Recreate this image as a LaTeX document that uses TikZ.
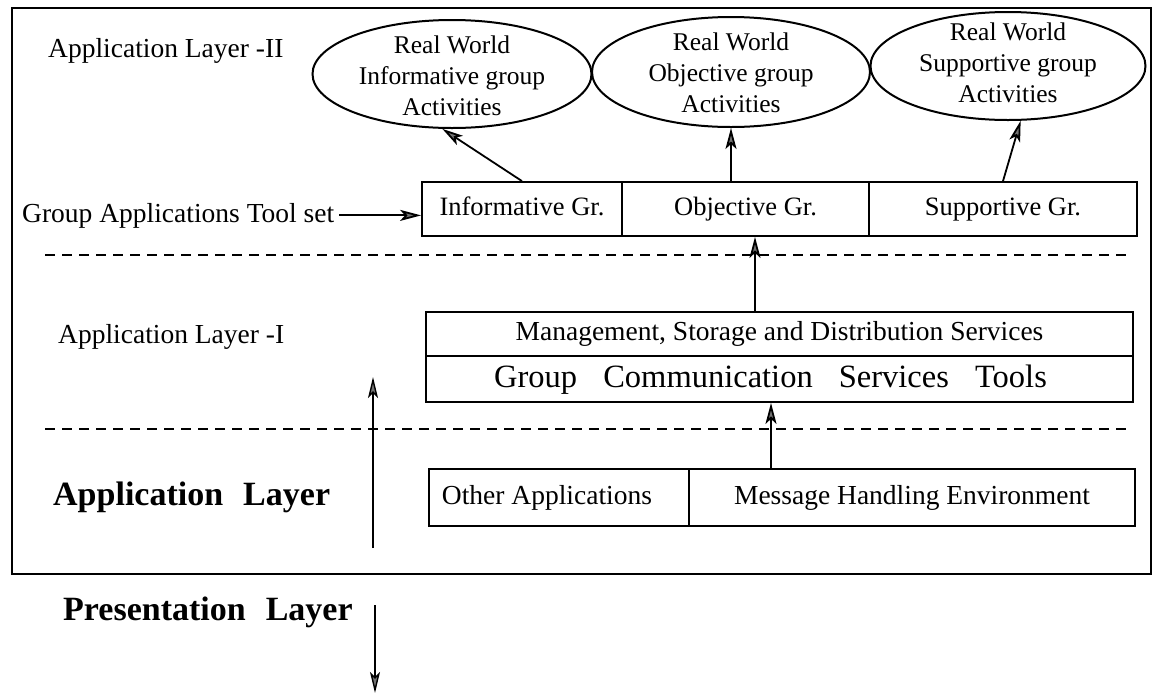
\documentclass[tikz,border=0pt]{standalone}
\usepackage{fontspec}
\setmainfont{Liberation Serif}
\usetikzlibrary{shapes.geometric,arrows.meta}

\tikzset{
  frame/.style={draw, line width=2.2pt},
  lbl/.style={inner sep=0pt, font=\fontsize{27.5}{33}\selectfont},
  biglbl/.style={inner sep=0pt, font=\fontsize{34}{40}\selectfont\bfseries},
  ellip/.style={draw, ellipse, line width=2pt, inner sep=0pt},
  etext/.style={inner sep=0pt, align=center, font=\fontsize{25.5}{31}\selectfont},
  box/.style={draw, rectangle, line width=1.8pt, inner sep=0pt},
  gbox/.style={box, font=\fontsize{26.5}{31}\selectfont, text height=18pt, text depth=5pt},
  sbox/.style={box, font=\fontsize{27.5}{33}\selectfont, text height=19pt, text depth=5.5pt},
  tbox/.style={box, font=\fontsize{32.5}{38}\selectfont, text height=22.5pt, text depth=6.5pt},
  arr/.style={line width=1.8pt,
    -{Stealth[length=21pt, width=11pt, inset=5pt, fill=black!55]}},
  thinarr/.style={line width=1.4pt,
    -{Stealth[length=21pt, width=10pt, inset=5pt, fill=black!55]}},
  sep/.style={line width=2.4pt, dash pattern=on 10pt off 7pt},
}

\begin{document}
\begin{tikzpicture}[x=1pt, y=-1pt]
  \useasboundingbox (0,0) rectangle (1157,694);
  \fill[white] (0,0) rectangle (1157,694);

  % outer frame of the application layer
  \draw[frame] (12,8) rectangle (1151,574);

  % layer titles
  \node[lbl, anchor=base west] (titleII) at (48,57) {Application Layer -II};
  \node[lbl, anchor=base west] (gat) at (22,222) {Group Applications Tool set};
  \node[lbl, anchor=base west] (titleI) at (58,343) {Application Layer -I};
  \node[biglbl, anchor=base west] (applayer) at (53,505) {Application\hspace{20pt}Layer};
  \node[biglbl, anchor=base west] (preslayer) at (63,620) {Presentation\hspace{20pt}Layer};

  % real world activities
  \node[ellip, minimum width=279pt, minimum height=108pt] (e1) at (452,74) {};
  \node[etext] (e1t) at (452,76) {Real World\\Informative group\\Activities};
  \node[ellip, minimum width=278pt, minimum height=110pt] (e2) at (731,72) {};
  \node[etext] (e2t) at (731,73) {Real World\\Objective group\\Activities};
  \node[ellip, minimum width=275pt, minimum height=108pt] (e3) at (1008,66) {};
  \node[etext] (e3t) at (1008,63) {Real World\\Supportive group\\Activities};

  % group applications tool set
  \node[gbox, minimum width=200pt, minimum height=54pt] (b1) at (522,209) {Informative Gr.};
  \node[gbox, minimum width=247pt, minimum height=54pt] (b2) at (745.5,209) {Objective Gr.};
  \node[gbox, minimum width=268pt, minimum height=54pt] (b3) at (1003,209) {Supportive Gr.};

  % group communication services
  \node[sbox, minimum width=707pt, minimum height=44pt] (mgmt) at (779.5,334)
    {Management, Storage and Distribution Services};
  \node[tbox, minimum width=707pt, minimum height=46pt] (gcst) at (779.5,379)
    {Group\hspace{18pt} Communication\hspace{18pt} Services\hspace{18pt} Tools\hspace*{18pt}};

  % lower application layer
  \node[sbox, minimum width=260pt, minimum height=57pt] (oth) at (559,497.5)
    {Other Applications\hspace*{24pt}};
  \node[sbox, minimum width=446pt, minimum height=57pt] (mhe) at (912,497.5)
    {Message Handling Environment};

  % layer separators
  \coordinate (s1a) at (45,255);   \coordinate (s1b) at (1130,255);
  \coordinate (s2a) at (45,429);   \coordinate (s2b) at (1132,429);
  \draw[sep] (s1a) -- (s1b);
  \draw[sep] (s2a) -- (s2b);

  % connectors
  \draw[arr] ([xshift=5pt]gat.east) -- (gat.east -| b1.west);
  \draw[arr] (b1.north) -- (e1.260);
  \draw[arr] (e2.south |- b2.north) -- (e2.south);
  \draw[arr] (b3.north) -- (e3.283);
  \coordinate (upA) at (755,0);
  \draw[arr] (mgmt.north -| upA) -- (b2.south -| upA);
  \coordinate (upB) at (771,0);
  \draw[arr] (mhe.north -| upB) -- (gcst.south -| upB);

  % flow between the application and presentation layers
  \coordinate (upfrom) at (373,548);  \coordinate (upto) at (373,377);
  \draw[thinarr] (upfrom) -- (upto);
  \coordinate (downfrom) at (375,605); \coordinate (downto) at (375,693);
  \draw[thinarr] (downfrom) -- (downto);
\end{tikzpicture}
\end{document}
